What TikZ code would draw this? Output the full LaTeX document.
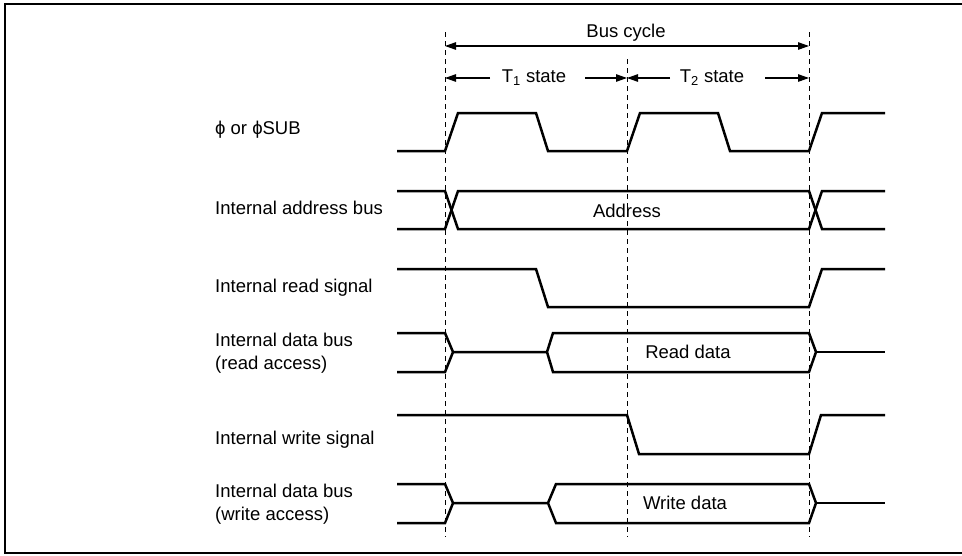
\documentclass[tikz,border=0pt]{standalone}
\usepackage{fontspec}
\setmainfont{Liberation Sans}
\usetikzlibrary{arrows.meta}
\tikzset{
  sig/.style={line width=2.5pt, line join=miter},
  guide/.style={line width=1pt, dash pattern=on 5pt off 4pt},
  dim/.style={line width=1.1pt, -{Triangle[length=11pt,width=7.5pt]}},
  lbl/.style={anchor=west, inner sep=0pt, align=left, font=\fontsize{18.5}{23}\selectfont},
  txt/.style={inner sep=0pt, font=\fontsize{18.5}{23}\selectfont}
}
\begin{document}
\begin{tikzpicture}[x=1pt,y=-1pt]
  \useasboundingbox (0,0) rectangle (962,555);
  \draw[line width=1.8pt] (966,4) -- (5,4) -- (5,553) -- (966,553);
  % guide lines
  \coordinate (g1) at (445,32);  \coordinate (g1b) at (445,537);
  \coordinate (g2) at (627,59);  \coordinate (g2b) at (627,537);
  \coordinate (g3) at (809,32);  \coordinate (g3b) at (809,537);
  \draw[guide] (g1) -- (g1b);
  \draw[guide] (g2) -- (g2b);
  \draw[guide] (g3) -- (g3b);
  % cycle and states
  \node[txt] (cyc) at (626,33) {Bus cycle};
  \draw[dim, {Triangle[length=11pt,width=7.5pt]}-{Triangle[length=11pt,width=7.5pt]}] (445,46) -- (809,46);
  \node[txt] (ta) at (534,78) {T\textsubscript{1} state};
  \node[txt] (tb) at (712,78) {T\textsubscript{2} state};
  \draw[dim] (490,78) -- (445,78);
  \draw[dim] (585,78) -- (627,78);
  \draw[dim] (670,78) -- (627,78);
  \draw[dim] (765,78) -- (809,78);
  % labels
  \node[lbl] (phi) at (215,130) {ϕ or ϕSUB};
  \node[lbl] (abus) at (215,208) {Internal address bus};
  \node[lbl] (rd) at (215,288) {Internal read signal};
  \node[lbl] (dbr) at (215,353.5) {Internal data bus\\(read access)};
  \node[lbl] (wr) at (215,440) {Internal write signal};
  \node[lbl] (dbw) at (215,504) {Internal data bus\\(write access)};
  % clock
  \draw[sig] (397,151) -- (445,151) -- (458,113) -- (536,113) -- (548,151) -- (627,151) -- (640,113)
    -- (718,113) -- (730,151) -- (809,151) -- (822,113) -- (885,113);
  % address bus
  \draw[sig] (397,191) -- (445,191) -- (458,229) -- (809,229) -- (822,191) -- (885,191);
  \draw[sig] (397,229) -- (445,229) -- (458,191) -- (809,191) -- (822,229) -- (885,229);
  \node[txt] (addr) at (627,211) {Address};
  % read signal
  \draw[sig] (397,269) -- (536,269) -- (548,307) -- (809,307) -- (822,269) -- (885,269);
  % read data bus
  \draw[sig] (397,333) -- (445,333) -- (453,352) -- (445,372) -- (397,372);
  \draw[sig] (453,352) -- (547,352) -- (553,333) -- (809,333) -- (816,352) -- (809,372) -- (553,372) -- (547,352);
  \draw[sig] (816,352) -- (885,352);
  \node[txt] (rdat) at (688,352) {Read data};
  % write signal
  \draw[sig] (397,415) -- (627,415) -- (639,454) -- (809,454) -- (821,415) -- (885,415);
  % write data bus
  \draw[sig] (397,484) -- (445,484) -- (453,503) -- (445,523) -- (397,523);
  \draw[sig] (453,503) -- (548,503) -- (556,484) -- (809,484) -- (816,503) -- (809,523) -- (556,523) -- (548,503);
  \draw[sig] (816,503) -- (885,503);
  \node[txt] (wdat) at (685,503) {Write data};
\end{tikzpicture}
\end{document}
